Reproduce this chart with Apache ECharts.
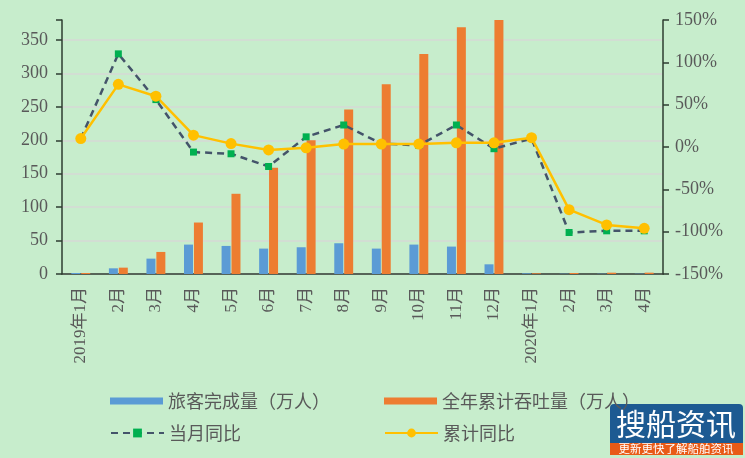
<!DOCTYPE html>
<html>
<head>
<meta charset="utf-8">
<script src="https://cdn.jsdelivr.net/npm/echarts@6/dist/echarts.min.js"></script>
<style>
  html, body { margin: 0; padding: 0; background: #C7EDCC; }
  #myChart { width: 745px; height: 458px; }
</style>
</head>
<body>
<div id="myChart"></div>
<script>
// 月份
var months = ["2019年1月", "2月", "3月", "4月", "5月", "6月", "7月", "8月", "9月", "10月", "11月", "12月",
  "2020年1月", "2月", "3月", "4月"];
// 旅客完成量（万人）
var passengers = [1.5, 8.5, 23, 44, 42, 38, 40, 46, 38, 44, 41, 14.5, 1, 0.4, 0.4, 0.4];
// 全年累计吞吐量（万人）
var cumulative = [1.5, 9.5, 33, 77, 120, 159, 200, 246, 284, 329, 369, 380, 1, 1.5, 2, 2];
// 当月同比（%）
var monthYoY = [10, 110, 56, -6, -8, -23, 12, 26, 4, 2, 26, -2, 10, -101, -99, -99];
// 累计同比（%）
var cumYoY = [10, 74, 60, 14, 4, -3.5, -1, 3.5, 3.5, 3.5, 5, 5, 11, -74, -92, -96];
// 左轴刻度
var leftTicks = [0, 50, 100, 150, 200, 250, 300, 350];

var labelColor = "#595959";
var axisColor = "#2e3d30";
var gridColor = "#d6d9d6";
var legendText = { color: labelColor, fontSize: 18, fontFamily: "Noto Sans CJK SC" };

var myChart = echarts.init(document.getElementById("myChart"));
myChart.setOption({
  animation: false,
  backgroundColor: "#C7EDCC",
  grid: { left: 62, right: 82, top: 20, bottom: 184 },
  legend: [
    { left: 105, top: 387, itemWidth: 53, itemHeight: 7, itemGap: 6, textStyle: legendText, data: [{ name: "旅客完成量（万人）", icon: "rect" }] },
    { left: 379, top: 387, itemWidth: 53, itemHeight: 7, itemGap: 6, textStyle: legendText, data: [{ name: "全年累计吞吐量（万人）", icon: "rect" }] },
    { left: 105, top: 419, itemWidth: 53, itemHeight: 11, textStyle: legendText, data: ["当月同比"] },
    { left: 379, top: 419, itemWidth: 53, itemHeight: 11, textStyle: legendText, data: ["累计同比"] }
  ],
  xAxis: {
    type: "category",
    data: months,
    axisLine: { lineStyle: { color: axisColor, width: 1.5 } },
    axisTick: { length: 6, lineStyle: { color: axisColor, width: 1.5 } },
    axisLabel: {
      rotate: 90, margin: 13, interval: 0,
      color: labelColor, fontSize: 17,
      fontFamily: "Liberation Serif, Noto Sans CJK SC"
    }
  },
  yAxis: [
    {
      type: "value", min: 0, max: 380, interval: 50,
      axisLine: { show: true, lineStyle: { color: axisColor, width: 1.5 } },
      axisTick: { show: true, length: 6, lineStyle: { color: axisColor, width: 1.5 } },
      axisLabel: {
        margin: 14, color: labelColor, fontSize: 18, fontFamily: "Liberation Serif",
        formatter: function (v) { return leftTicks.indexOf(v) >= 0 ? v : ""; }
      },
      splitLine: {
        lineStyle: {
          width: 1.5,
          color: [gridColor, gridColor, gridColor, gridColor, gridColor, gridColor, gridColor, gridColor, "transparent"]
        }
      }
    },
    {
      type: "value", min: -150, max: 150, interval: 50,
      axisLine: { show: true, lineStyle: { color: axisColor, width: 1.5 } },
      axisTick: { show: true, length: 6, lineStyle: { color: axisColor, width: 1.5 } },
      axisLabel: { margin: 12, color: labelColor, fontSize: 18, fontFamily: "Liberation Serif", formatter: "{value}%" },
      splitLine: { show: false }
    }
  ],
  series: [
    {
      name: "旅客完成量（万人）", type: "bar", data: passengers,
      barWidth: 9, barGap: "10%", itemStyle: { color: "#5B9BD5" }
    },
    {
      name: "全年累计吞吐量（万人）", type: "bar", data: cumulative,
      barWidth: 9, itemStyle: { color: "#ED7D31" }
    },
    {
      name: "当月同比", type: "line", yAxisIndex: 1, data: monthYoY,
      symbol: "rect", symbolSize: 7,
      itemStyle: { color: "#00B050", borderWidth: 0 },
      lineStyle: { color: "#44546A", width: 2.5, type: [7, 5] }
    },
    {
      name: "累计同比", type: "line", yAxisIndex: 1, data: cumYoY,
      symbol: "circle", symbolSize: 11,
      itemStyle: { color: "#FFC000", borderWidth: 0 },
      lineStyle: { color: "#FFC000", width: 2.5 }
    }
  ],
  // 右下角水印
  graphic: [
    { type: "rect", shape: { x: 610, y: 404, width: 133, height: 39, r: [4, 4, 0, 0] }, style: { fill: "#1d5a92" } },
    { type: "text", style: { x: 676, y: 424, text: "搜船资讯", fill: "#ffffff", fontSize: 30, fontFamily: "Noto Sans CJK SC", align: "center", verticalAlign: "middle" } },
    { type: "rect", shape: { x: 610, y: 443, width: 133, height: 12 }, style: { fill: "#e85a17" } },
    { type: "text", style: { x: 676, y: 449, text: "更新更快了解船舶资讯", fill: "#ffffff", fontSize: 11.5, fontFamily: "Noto Sans CJK SC", align: "center", verticalAlign: "middle" } }
  ]
});
</script>
</body>
</html>
